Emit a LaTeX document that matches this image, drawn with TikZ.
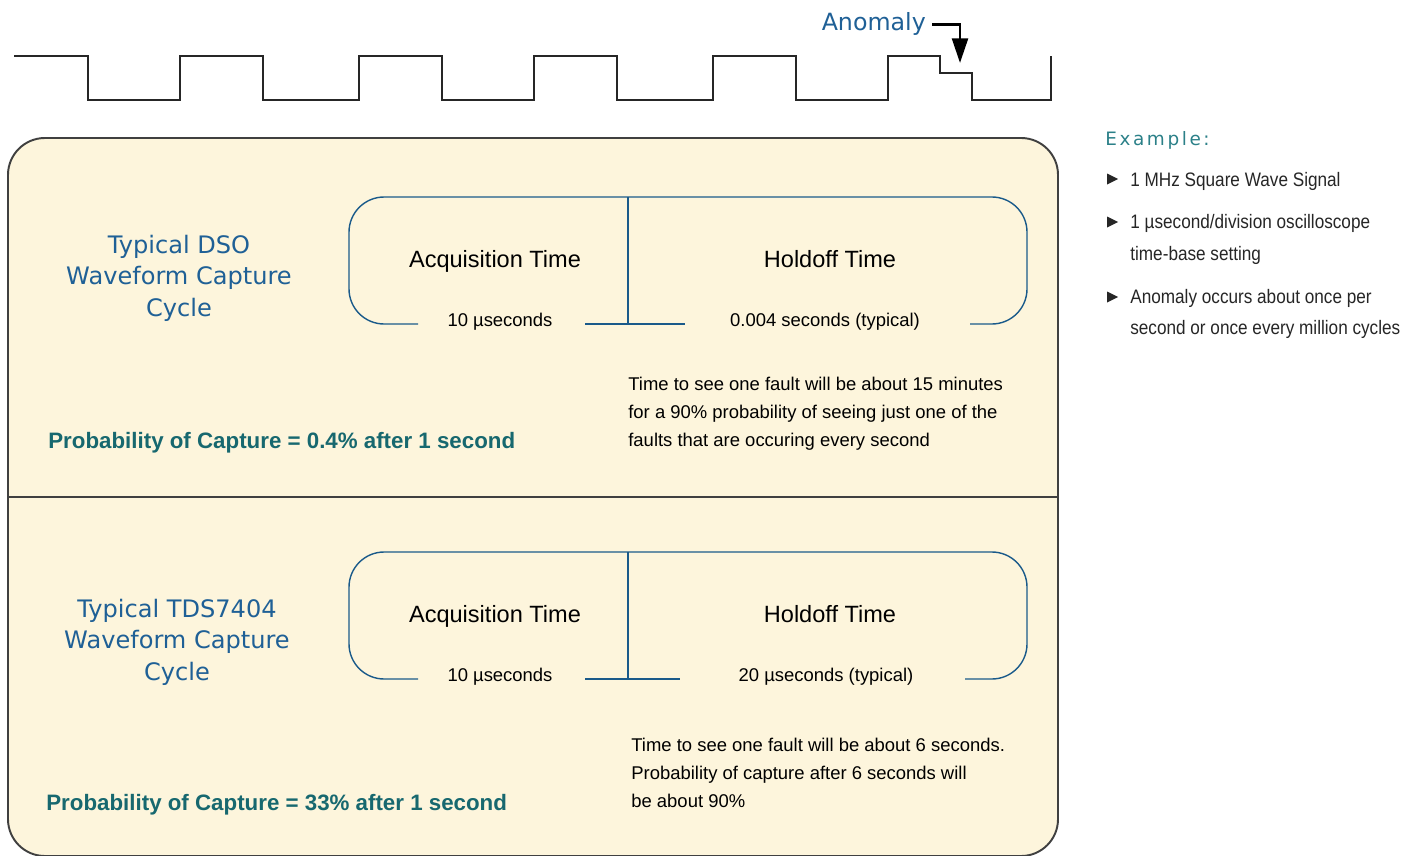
\documentclass[tikz,border=0pt]{standalone}
\usepackage{fontspec}
\setmainfont{Liberation Sans}
\newfontfamily\titlefont{DejaVu Sans}
\newfontfamily\examplefont[LetterSpace=14]{DejaVu Sans}
\newfontfamily\narrowfont[FakeStretch=0.88]{Liberation Sans}
\usepackage{xcolor}
\usetikzlibrary{arrows.meta}
\definecolor{cream}{HTML}{FDF5DC}
\definecolor{scopeblue}{HTML}{1F6096}
\definecolor{lineblue}{HTML}{1A5A8A}
\definecolor{capteal}{HTML}{17686F}
\definecolor{exteal}{HTML}{2B8088}
\definecolor{framegray}{HTML}{404040}
\tikzset{wave/.style={draw=black!85, line width=0.9pt},
 frame/.style={draw=framegray, line width=1.1pt, fill=cream, rounded corners=21pt},
 cycleline/.style={draw=lineblue, line width=0.8pt, rounded corners=20pt},
 title/.style={font=\titlefont\fontsize{13.7}{16}\selectfont, text=scopeblue, anchor=base, inner sep=0pt},
 timelabel/.style={font=\fontsize{13.4}{16}\selectfont, anchor=base, inner sep=0pt},
 small/.style={font=\fontsize{10.5}{12}\selectfont, anchor=base, inner sep=0pt},
 note/.style={font=\fontsize{10.5}{12}\selectfont, anchor=base west, inner sep=0pt},
 capture/.style={font=\bfseries\fontsize{12.7}{15}\selectfont, text=capteal, anchor=base west, inner sep=0pt},
 item/.style={font=\narrowfont\fontsize{11.1}{13}\selectfont, text=black!85, anchor=base west, inner sep=0pt},
 pointer/.style={line width=1.6pt, -{Triangle[length=14pt, width=9pt]}},
 }
\begin{document}
\begin{tikzpicture}[x=0.02cm, y=-0.02cm]
        \useasboundingbox (0,0) rectangle (1419,855);
        % square wave with the anomaly
        \draw[wave] (14,56) -| (88,100) -| (180,56) -| (263,100) -| (359,56) -| (442,100)
            -| (534,56) -| (617,100) -| (713,56) -| (796,100) -| (888,56) -| (940,73)
            -| (972,100) -| (1051,56);
        \node[font=\titlefont\fontsize{13.5}{16}\selectfont, text=scopeblue, anchor=base east] (anom) at (932,31) {Anomaly};
        \coordinate (hit) at (960,63);
        \draw[pointer] (anom.east) -| (hit);

        % panel
        \draw[frame] (8,138) rectangle (1058,856);
        \draw[framegray, line width=1.1pt] (8,497) -- (1058,497);

        % DSO cycle
        \node[title] (dso1) at (179,253) {Typical DSO};
        \node[title] (dso2) at (179,284) {Waveform Capture};
        \node[title] (dso3) at (179,316) {Cycle};
        \draw[cycleline] (418,324) -- (349,324) -- (349,197) -- (1027,197) -- (1027,324) -- (970,324);
        \draw[lineblue, line width=0.8pt] (585,324) -- (685,324);
        \draw[lineblue, line width=0.8pt] (628,197) -- (628,324);
        \node[timelabel] (dsoacq) at (495,267) {Acquisition Time};
        \node[timelabel] (dsohold) at (830,267) {Holdoff Time};
        \node[small] (dsoacqt) at (500,326) {10 µseconds};
        \node[small] (dsoholdt) at (825,326) {0.004 seconds (typical)};
        \node[note] (dsonote1) at (628,390) {Time to see one fault will be about 15 minutes};
        \node[note] (dsonote2) at (628,418) {for a 90\% probability of seeing just one of the};
        \node[note] (dsonote3) at (628,446) {faults that are occuring every second};
        \node[capture] (dsocap) at (48,448) {Probability of Capture = 0.4\% after 1 second};

        % TDS7404 cycle
        \node[title] (tds1) at (177,617) {Typical TDS7404};
        \node[title] (tds2) at (177,648) {Waveform Capture};
        \node[title] (tds3) at (177,680) {Cycle};
        \draw[cycleline] (418,679) -- (349,679) -- (349,552) -- (1027,552) -- (1027,679) -- (965,679);
        \draw[lineblue, line width=0.8pt] (585,679) -- (680,679);
        \draw[lineblue, line width=0.8pt] (628,552) -- (628,679);
        \node[timelabel] (tdsacq) at (495,622) {Acquisition Time};
        \node[timelabel] (tdshold) at (830,622) {Holdoff Time};
        \node[small] (tdsacqt) at (500,681) {10 µseconds};
        \node[small] (tdsholdt) at (826,681) {20 µseconds (typical)};
        \node[note] (tdsnote1) at (631,751) {Time to see one fault will be about 6 seconds.};
        \node[note] (tdsnote2) at (631,779) {Probability of capture after 6 seconds will};
        \node[note] (tdsnote3) at (631,807) {be about 90\%};
        \node[capture] (tdscap) at (46,810) {Probability of Capture = 33\% after 1 second};

        % example list
        \node[font=\examplefont\fontsize{10.5}{12}\selectfont, text=exteal, anchor=base west, inner sep=0pt] (ex) at (1105,145) {Example:};
        \foreach \by in {179,222,297}
            \fill[black!85] (1107,\by-5.5) -- (1118,\by) -- (1107,\by+5.5) -- cycle;
        \node[item] (item1) at (1130,186) {1 MHz Square Wave Signal};
        \node[item] (item2) at (1130,228) {1 µsecond/division oscilloscope};
        \node[item] (item2b) at (1130,260) {time-base setting};
        \node[item] (item3) at (1130,303) {Anomaly occurs about once per};
        \node[item] (item3b) at (1130,334) {second or once every million cycles};
    \end{tikzpicture}
\end{document}
